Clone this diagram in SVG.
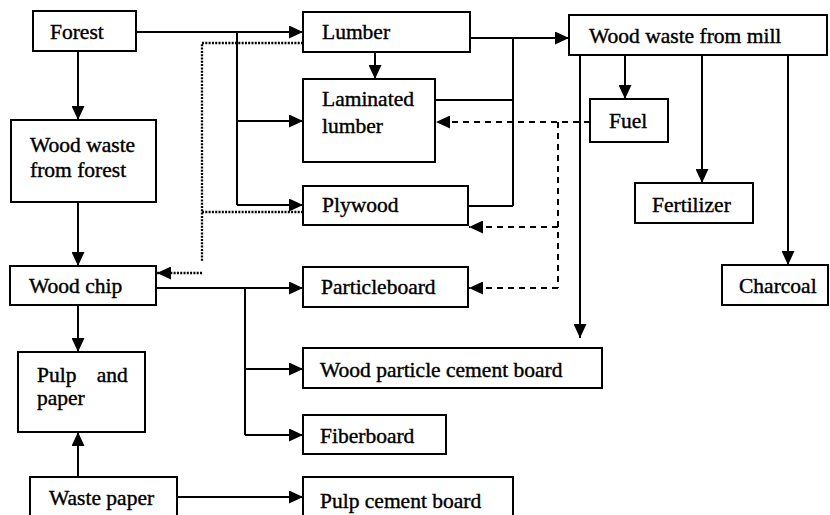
<svg xmlns="http://www.w3.org/2000/svg" width="830" height="515" viewBox="0 0 830 515">
<style>
.box{fill:#fff;stroke:#000;stroke-width:2}
.t{font-family:"Liberation Serif","Times New Roman",serif;font-size:21.5px;fill:#000;stroke:#000;stroke-width:0.4}
.ln{fill:none;stroke:#000;stroke-width:2}
.dot{fill:none;stroke:#000;stroke-width:2.3;stroke-dasharray:2 1.3}
.dash{fill:none;stroke:#000;stroke-width:2;stroke-dasharray:6 5}
</style>
<defs>
<marker id="ah" markerUnits="userSpaceOnUse" markerWidth="14" markerHeight="13" refX="14" refY="6.5" orient="auto">
<path d="M0,0 L14,6.5 L0,13 z" fill="#000"/>
</marker>
</defs>
<rect width="830" height="515" fill="#fff"/>
<g id="connectors">
<path class="ln" d="M136,32 H303" marker-end="url(#ah)"/>
<path class="ln" d="M237,32 V205"/>
<path class="ln" d="M237,121 H303" marker-end="url(#ah)"/>
<path class="ln" d="M237,205 H303" marker-end="url(#ah)"/>
<path class="ln" d="M78,51 V120" marker-end="url(#ah)"/>
<path class="ln" d="M78,202 V266" marker-end="url(#ah)"/>
<path class="dot" d="M303,43 H202 V262"/>
<path class="dot" d="M303,212 H202"/>
<path class="dot" d="M202,273 H157" marker-end="url(#ah)"/>
<path class="ln" d="M375,52 V79" marker-end="url(#ah)"/>
<path class="ln" d="M470,38 H569" marker-end="url(#ah)"/>
<path class="ln" d="M513,38 V206"/>
<path class="ln" d="M435,100 H513"/>
<path class="ln" d="M468,206 H513"/>
<path class="ln" d="M625,55 V99" marker-end="url(#ah)"/>
<path class="ln" d="M702,55 V183" marker-end="url(#ah)"/>
<path class="ln" d="M788,55 V265" marker-end="url(#ah)"/>
<path class="ln" d="M580,55 V338" marker-end="url(#ah)"/>
<path class="dash" d="M590,122 H436" marker-end="url(#ah)"/>
<path class="dash" d="M558,122 V288"/>
<path class="dash" d="M558,227 H469" marker-end="url(#ah)"/>
<path class="dash" d="M558,288 H469" marker-end="url(#ah)"/>
<path class="ln" d="M156,288 H303" marker-end="url(#ah)"/>
<path class="ln" d="M245,288 V435"/>
<path class="ln" d="M245,369 H303" marker-end="url(#ah)"/>
<path class="ln" d="M245,435 H303" marker-end="url(#ah)"/>
<path class="ln" d="M78,305 V352" marker-end="url(#ah)"/>
<path class="ln" d="M78,477 V432" marker-end="url(#ah)"/>
<path class="ln" d="M177,497 H303" marker-end="url(#ah)"/>
</g>
<g id="forest"><rect class="box" x="33" y="11" width="103" height="40"/><text class="t" x="50" y="39">Forest</text></g>
<g id="wood-waste-forest"><rect class="box" x="11" y="120" width="145" height="82"/><text class="t" x="30" y="152">Wood waste</text><text class="t" x="30" y="177">from forest</text></g>
<g id="lumber"><rect class="box" x="303" y="12" width="167" height="40"/><text class="t" x="322" y="39">Lumber</text></g>
<g id="laminated-lumber"><rect class="box" x="303" y="79" width="132" height="83"/><text class="t" x="322" y="106">Laminated</text><text class="t" x="322" y="133">lumber</text></g>
<g id="plywood"><rect class="box" x="303" y="186" width="165" height="39"/><text class="t" x="322" y="212">Plywood</text></g>
<g id="wood-waste-mill"><rect class="box" x="569" y="15" width="258" height="40"/><text class="t" x="589" y="43">Wood waste from mill</text></g>
<g id="fuel"><rect class="box" x="590" y="99" width="78" height="43"/><text class="t" x="609" y="128">Fuel</text></g>
<g id="fertilizer"><rect class="box" x="635" y="183" width="118" height="40"/><text class="t" x="652" y="212">Fertilizer</text></g>
<g id="charcoal"><rect class="box" x="722" y="265" width="106" height="40"/><text class="t" x="739" y="293">Charcoal</text></g>
<g id="wood-chip"><rect class="box" x="10" y="266" width="146" height="39"/><text class="t" x="29" y="293">Wood chip</text></g>
<g id="pulp-paper"><rect class="box" x="18" y="352" width="127" height="80"/><text class="t" x="37" y="382" word-spacing="15">Pulp and</text><text class="t" x="37" y="405">paper</text></g>
<g id="waste-paper"><rect class="box" x="30" y="477" width="147" height="40"/><text class="t" x="49" y="505">Waste paper</text></g>
<g id="particleboard"><rect class="box" x="303" y="267" width="165" height="40"/><text class="t" x="321" y="294">Particleboard</text></g>
<g id="wood-particle-cement-board"><rect class="box" x="303" y="348" width="299" height="40"/><text class="t" x="320" y="377">Wood particle cement board</text></g>
<g id="fiberboard"><rect class="box" x="303" y="415" width="143" height="39"/><text class="t" x="320" y="443">Fiberboard</text></g>
<g id="pulp-cement-board"><rect class="box" x="303" y="477" width="210" height="40"/><text class="t" x="320" y="508">Pulp cement board</text></g>
</svg>
